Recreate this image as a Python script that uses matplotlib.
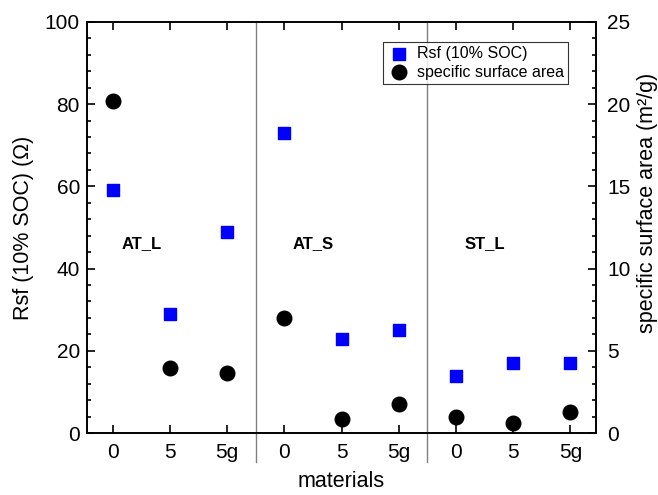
import matplotlib.pyplot as plt
from matplotlib.ticker import MultipleLocator

plt.rcParams['font.family'] = ['Liberation Sans', 'DejaVu Sans']

groups = ['AT_L', 'AT_S', 'ST_L']
tick_labels = ['0', '5', '5g', '0', '5', '5g', '0', '5', '5g']
rsf = [59, 29, 49, 73, 23, 25, 14, 17, 17]
ssa = [20.2, 3.95, 3.65, 7.0, 0.85, 1.75, 0.97, 0.62, 1.3]

x = list(range(len(tick_labels)))

fig = plt.figure(figsize=(6.58, 4.95), dpi=100)
ax = fig.add_axes([0.132, 0.125, 0.774, 0.831])
ax2 = ax.twinx()

ax.scatter(x, rsf, marker='s', s=85, color='#0000ff', zorder=3, label='Rsf (10% SOC)')
ax2.scatter(x, ssa, marker='o', s=110, color='black', zorder=3, label='specific surface area')

ax.set_xlim(-0.45, 8.45)
ax.set_ylim(0, 100)
ax2.set_ylim(0, 25)

ax.set_xticks(x)
ax.set_xticklabels(tick_labels)
ax.yaxis.set_major_locator(MultipleLocator(20))
ax.yaxis.set_minor_locator(MultipleLocator(4))
ax2.yaxis.set_major_locator(MultipleLocator(5))
ax2.yaxis.set_minor_locator(MultipleLocator(1))

ax.tick_params(axis='x', direction='in', top=True, length=6, width=1.2, pad=7, labelsize=15)
ax.tick_params(axis='y', which='major', direction='in', length=6, width=1.2, pad=5, labelsize=15)
ax.tick_params(axis='y', which='minor', direction='in', length=3, width=1.2)
ax2.tick_params(axis='y', which='major', direction='in', length=6, width=1.2, pad=8, labelsize=15)
ax2.tick_params(axis='y', which='minor', direction='in', length=3, width=1.2)

for sp in ax.spines.values():
    sp.set_linewidth(1.2)
for sp in ax2.spines.values():
    sp.set_linewidth(1.2)

for xd in [2.5, 5.5]:
    ax.axvline(xd, ymin=-0.07, ymax=1, color='#808080', lw=1, clip_on=False)

for i, g in enumerate(groups):
    ax.text(3 * i + 0.5, 46, g, fontsize=12, fontweight='bold', ha='center', va='center')

ax.set_xlabel('materials', fontsize=15.5, labelpad=6.5)
ax.set_ylabel('Rsf (10% SOC) (\u03a9)', fontsize=15.5, labelpad=8)
ax2.set_ylabel('specific surface area (m\u00b2/g)', fontsize=15.5)
ax2.yaxis.set_label_coords(1.08, 0.56)

h1, l1 = ax.get_legend_handles_labels()
h2, l2 = ax2.get_legend_handles_labels()
leg = ax2.legend(h1 + h2, l1 + l2, loc='upper right', bbox_to_anchor=(0.945, 0.95),
                 fontsize=11.5, frameon=True, fancybox=False, edgecolor='black',
                 handletextpad=0.4, borderpad=0.25, labelspacing=0.2, handlelength=1.5,
                 borderaxespad=0)
leg.get_frame().set_linewidth(0.8)

fig.savefig('out.png', dpi=100)
